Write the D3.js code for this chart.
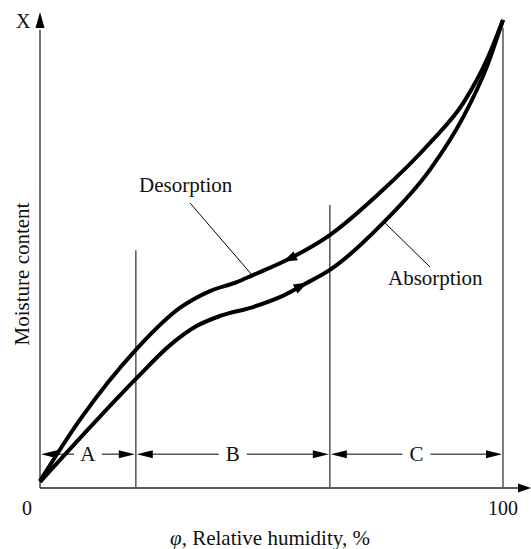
<!DOCTYPE html>
<html>
<head>
<meta charset="utf-8">
<script src="https://cdn.jsdelivr.net/npm/d3@7"></script>
<style>
  body { margin: 0; background: #fff; }
  text { font-family: "Liberation Serif", "Times New Roman", serif; fill: #111; }
</style>
</head>
<body>
<div class="chart"></div>
<script>
// desorption curve (upper branch)
const phiDesorption = [0, 8.6, 20.7, 30.2, 36.7, 42.5, 46.0, 53.3, 62.6, 73.4, 84.2, 91.4, 96.5, 100];
const mDesorption   = [1.5, 14.5, 29.4, 38.3, 41.9, 43.8, 45.3, 48.5, 53.8, 62.8, 73.4, 81.9, 91.1, 99.6];
// absorption curve (lower branch)
const phiAbsorption = [0, 12.3, 20.7, 28.1, 33.9, 38.9, 46.0, 51.8, 56.8, 62.6, 74.1, 84.2, 91.4, 96.5, 100];
const mAbsorption   = [1.3, 14.5, 23.2, 30.4, 34.5, 36.6, 38.5, 40.6, 43.2, 46.4, 56.4, 67.7, 78.9, 89.6, 99.6];

const zoneBounds = [0, 20.7, 62.6, 100];
const zoneLabels = ["A", "B", "C"];
const zoneLineTops = [50.6, 60.2, 97.9];
const zoneArrowLevel = 7.2;
const xTickLabels = [0, 100];

const width = 531, height = 549;
const svg = d3.select('.chart')
    .append('svg')
    .attr('width', width)
    .attr('height', height);

const xScale = d3.scaleLinear().domain([0, 100]).range([40, 503]);
const yScale = d3.scaleLinear().domain([0, 100]).range([488, 18]);

// arrow head helper: tip at (x,y), pointing along angle a (radians)
function arrowHead(g, x, y, a, len, half) {
    const bx = x - len * Math.cos(a), by = y - len * Math.sin(a);
    const px = -Math.sin(a) * half, py = Math.cos(a) * half;
    g.append('path')
        .attr('d', `M${x},${y}L${bx + px},${by + py}L${bx - px},${by - py}Z`)
        .attr('fill', '#000');
}

// axes
svg.append('line')
    .attr('x1', xScale(0)).attr('y1', yScale(0))
    .attr('x2', xScale(0)).attr('y2', yScale(97.5))
    .attr('stroke', '#444').attr('stroke-width', 1.5);
arrowHead(svg, xScale(0), 12, -Math.PI / 2, 16, 4.5);

svg.append('line')
    .attr('x1', xScale(0)).attr('y1', yScale(0))
    .attr('x2', 520).attr('y2', yScale(0))
    .attr('stroke', '#222').attr('stroke-width', 1.5);
arrowHead(svg, 531, yScale(0), 0, 13, 4.5);

// zone boundary lines
svg.append('g')
    .selectAll('line')
    .data(zoneLineTops)
    .enter()
    .append('line')
        .attr('x1', (d, i) => xScale(zoneBounds[i + 1]))
        .attr('x2', (d, i) => xScale(zoneBounds[i + 1]))
        .attr('y1', yScale(0))
        .attr('y2', d => yScale(d))
        .attr('stroke', '#555')
        .attr('stroke-width', 1.5);

// zone dimension arrows with labels
const zoneG = svg.append('g');
const ay = yScale(zoneArrowLevel);
zoneLabels.forEach((lab, i) => {
    const x0 = xScale(zoneBounds[i]), x1 = xScale(zoneBounds[i + 1]);
    const xm = (x0 + x1) / 2;
    zoneG.append('line').attr('x1', x0 + 10).attr('x2', xm - 14)
        .attr('y1', ay).attr('y2', ay).attr('stroke', '#000').attr('stroke-width', 1);
    zoneG.append('line').attr('x1', xm + 14).attr('x2', x1 - 10)
        .attr('y1', ay).attr('y2', ay).attr('stroke', '#000').attr('stroke-width', 1);
    arrowHead(zoneG, x0 + 1, ay, Math.PI, 16, 4);
    arrowHead(zoneG, x1 - 1, ay, 0, 16, 4);
    zoneG.append('text')
        .attr('x', xm).attr('y', ay + 7)
        .attr('text-anchor', 'middle')
        .style('font-size', '21px')
        .text(lab);
});

// curves
const line = d3.line()
    .x(d => xScale(d[0]))
    .y(d => yScale(d[1]))
    .curve(d3.curveMonotoneX);

const desData = d3.zip(phiDesorption, mDesorption);
const absData = d3.zip(phiAbsorption, mAbsorption);

const desPath = svg.append('path')
    .datum(desData)
    .attr('d', line)
    .attr('fill', 'none')
    .attr('stroke', '#000')
    .attr('stroke-width', 4);

const absPath = svg.append('path')
    .datum(absData)
    .attr('d', line)
    .attr('fill', 'none')
    .attr('stroke', '#000')
    .attr('stroke-width', 4);

// direction arrows on the curves
function pointAtX(pathNode, xTarget) {
    const L = pathNode.getTotalLength();
    let lo = 0, hi = L;
    for (let k = 0; k < 40; k++) {
        const mid = (lo + hi) / 2;
        if (pathNode.getPointAtLength(mid).x < xTarget) lo = mid; else hi = mid;
    }
    return lo;
}
function curveArrow(pathNode, phi, forward) {
    const s = pointAtX(pathNode, xScale(phi));
    const p = pathNode.getPointAtLength(s);
    const q = pathNode.getPointAtLength(s + 2);
    let a = Math.atan2(q.y - p.y, q.x - p.x);
    if (!forward) a += Math.PI;
    arrowHead(svg, p.x, p.y, a, 14, 5);
}
curveArrow(desPath.node(), 52.5, false);
curveArrow(absPath.node(), 57.8, true);

// curve labels and leaders
svg.append('line')
    .attr('x1', 190).attr('y1', 203)
    .attr('x2', xScale(46.0)).attr('y2', yScale(45.3) + 1)
    .attr('stroke', '#000').attr('stroke-width', 1);
svg.append('text')
    .attr('x', 139).attr('y', 192)
    .style('font-size', '21px')
    .text('Desorption');

svg.append('line')
    .attr('x1', xScale(74.3)).attr('y1', yScale(56.6))
    .attr('x2', 430).attr('y2', 267)
    .attr('stroke', '#000').attr('stroke-width', 1);
svg.append('text')
    .attr('x', 388).attr('y', 285)
    .style('font-size', '21px')
    .text('Absorption');

// tick labels
svg.append('g')
    .selectAll('text')
    .data(xTickLabels)
    .enter()
    .append('text')
        .attr('x', d => d === 0 ? 27 : xScale(d))
        .attr('y', 515)
        .attr('text-anchor', 'middle')
        .style('font-size', '20px')
        .text(d => d);

svg.append('text')
    .attr('x', 16).attr('y', 28)
    .style('font-size', '20px')
    .text('X');

// axis titles
const xt = svg.append('text')
    .attr('x', 270).attr('y', 545)
    .attr('text-anchor', 'middle')
    .style('font-size', '21px');
xt.append('tspan').style('font-style', 'italic').text('φ');
xt.append('tspan').text(', Relative humidity, %');

svg.append('text')
    .attr('transform', 'translate(29,274) rotate(-90)')
    .attr('text-anchor', 'middle')
    .style('font-size', '21px')
    .text('Moisture content');
</script>
</body>
</html>
